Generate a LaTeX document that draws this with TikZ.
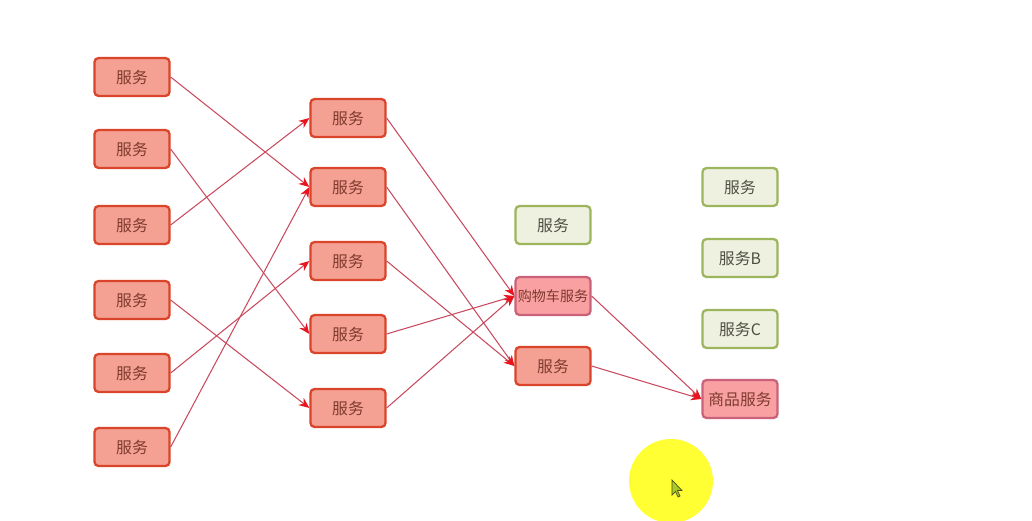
\documentclass[tikz,border=0pt]{standalone}
\usepackage{fontspec}
\newfontfamily\cjk{Noto Sans CJK SC}
\usetikzlibrary{arrows.meta}
\definecolor{redfill}{HTML}{F4A092}
\definecolor{reddraw}{HTML}{D9442A}
\definecolor{redtext}{HTML}{7E3A2E}
\definecolor{pinkfill}{HTML}{F9A0A2}
\definecolor{pinkdraw}{HTML}{C9627A}
\definecolor{greenfill}{HTML}{EEF0E0}
\definecolor{greendraw}{HTML}{9DB55C}
\definecolor{greentext}{HTML}{4E4E42}
\definecolor{edgecol}{HTML}{C84A5E}
\definecolor{tipcol}{HTML}{E8141E}
\definecolor{hl}{HTML}{FFFF33}
\tikzset{
  box/.style={rounded corners=2.3pt, minimum width=1.5cm, minimum height=0.76cm,
    inner sep=0pt, line width=1.3pt, font=\cjk\fontsize{9}{11}\selectfont},
  redbox/.style={box, draw=reddraw, fill=redfill, text=redtext},
  pinkbox/.style={box, draw=pinkdraw, fill=pinkfill, text=redtext},
  greenbox/.style={box, draw=greendraw, fill=greenfill, text=greentext},
  small/.style={font=\cjk\fontsize{8}{10}\selectfont},
  link/.style={draw=edgecol, line width=0.6pt, -{Stealth[length=6pt,width=5pt,fill=tipcol,color=tipcol]}}
}
\begin{document}
\begin{tikzpicture}[x=0.02cm,y=-0.02cm]
\useasboundingbox (0,0) rectangle (1032,521);
% column 1
\node[redbox] (a1) at (132,77) {服务};
\node[redbox] (a2) at (132,149) {服务};
\node[redbox] (a3) at (132,225) {服务};
\node[redbox] (a4) at (132,300) {服务};
\node[redbox] (a5) at (132,373) {服务};
\node[redbox] (a6) at (132,447) {服务};
% column 2
\node[redbox] (b1) at (348,118) {服务};
\node[redbox] (b2) at (348,187) {服务};
\node[redbox] (b3) at (348,261) {服务};
\node[redbox] (b4) at (348,334) {服务};
\node[redbox] (b5) at (348,408) {服务};
% column 3
\node[greenbox] (c0) at (553,225) {服务};
\node[pinkbox, small] (c1) at (553,296) {购物车服务};
\node[redbox] (c2) at (553,366) {服务};
% column 4
\node[greenbox] (d1) at (740,187) {服务};
\node[greenbox] (d2) at (740,258) {服务B};
\node[greenbox] (d3) at (740,329) {服务C};
\node[pinkbox] (d4) at (740,399) {商品服务};
% edges
\draw[link] (a1.east) -- (b2.west);
\draw[link] (a2.east) -- (b4.west);
\draw[link] (a3.east) -- (b1.west);
\draw[link] (a4.east) -- (b5.west);
\draw[link] (a5.east) -- (b3.west);
\draw[link] (a6.east) -- (b2.west);
\draw[link] (b1.east) -- (c1.west);
\draw[link] (b2.east) -- (c2.west);
\draw[link] (b3.east) -- (c2.west);
\draw[link] (b4.east) -- (c1.west);
\draw[link] (b5.east) -- (c1.west);
\draw[link] (c1.east) -- (d4.west);
\draw[link] (c2.east) -- (d4.west);
% highlight and cursor
\fill[hl] (671,481) circle (42);
\draw[fill={rgb,255:red,170;green,200;blue,40}, draw={rgb,255:red,80;green,80;blue,30}, line width=0.4pt]
  (672,480) -- (672,495) -- (675.5,491.5) -- (678,497) -- (680,496) -- (677.5,490.5) -- (682,490.5) -- cycle;
\end{tikzpicture}
\end{document}
